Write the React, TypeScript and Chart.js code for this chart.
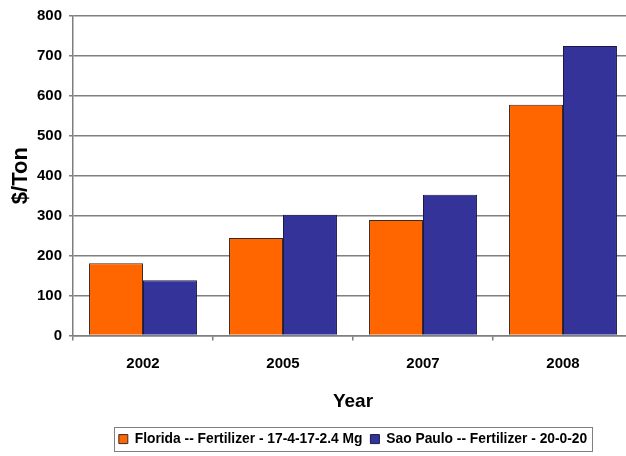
import React, { useEffect, useRef } from "react";
import { Chart, registerables } from "chart.js";

Chart.register(...registerables);

const years = ["2002", "2005", "2007", "2008"];
const floridaLabel = "Florida -- Fertilizer - 17-4-17-2.4 Mg";
const saoPauloLabel = "Sao Paulo -- Fertilizer - 20-0-20";
const floridaPrices = [181, 244, 289, 578];
const saoPauloPrices = [138, 302, 352, 725];
const yTicks = [0, 100, 200, 300, 400, 500, 600, 700, 800];

const FONT = "'Liberation Sans', Arial, Helvetica, sans-serif";

// Draws a thin frame around the legend items
const legendFrame = {
  id: "legendFrame",
  afterDraw(chart: any) {
    const lg = chart.legend;
    if (!lg || !lg.legendHitBoxes || !lg.legendHitBoxes.length) return;
    const boxes = lg.legendHitBoxes;
    let l = Infinity, r = -Infinity, t = Infinity, b = -Infinity;
    for (const h of boxes) {
      l = Math.min(l, h.left);
      r = Math.max(r, h.left + h.width);
      t = Math.min(t, h.top);
      b = Math.max(b, h.top + h.height);
    }
    const ctx = chart.ctx;
    ctx.save();
    ctx.strokeStyle = "#7f7f7f";
    ctx.lineWidth = 1;
    const cy = (t + b) / 2;
    ctx.strokeRect(Math.round(l - 5) + 0.5, Math.round(cy - 12) + 0.5, Math.round(r - l + 10), 24);
    ctx.restore();
  },
};

export default function App() {
  const ref = useRef<HTMLCanvasElement | null>(null);

  useEffect(() => {
    if (!ref.current) return;
    const chart = new Chart(ref.current, {
      type: "bar",
      data: {
        labels: years,
        datasets: [
          {
            label: floridaLabel,
            data: floridaPrices,
            backgroundColor: "#ff6600",
            borderColor: "#3a2a2a",
            borderWidth: 1,
            barPercentage: 1,
            categoryPercentage: 0.771,
          },
          {
            label: saoPauloLabel,
            data: saoPauloPrices,
            backgroundColor: "#333399",
            borderColor: "#1a1a4a",
            borderWidth: 1,
            barPercentage: 1,
            categoryPercentage: 0.771,
          },
        ],
      },
      options: {
        animation: false,
        responsive: false,
        maintainAspectRatio: false,
        layout: { padding: { top: 12, right: 7, left: 0, bottom: 0 } },
        plugins: {
          tooltip: { enabled: false },
          legend: {
            position: "bottom",
            fullSize: false,
            labels: {
              color: "#000",
              boxWidth: 9,
              boxHeight: 9,
              padding: 8,
              font: { family: FONT, size: 13.8, weight: "bold" },
            },
          },
        },
        scales: {
          x: {
            grid: {
              display: true,
              drawOnChartArea: false,
              offset: true,
              color: "#7f7f7f",
              tickLength: 5,
              lineWidth: 1.5,
            },
            border: { color: "#7f7f7f", width: 1.5 },
            ticks: { color: "#000", padding: 14, font: { family: FONT, size: 15, weight: "bold" } },
            title: {
              display: true,
              text: "Year",
              color: "#000",
              padding: { top: 4, bottom: 11 },
              font: { family: FONT, size: 19, weight: "bold" },
            },
          },
          y: {
            min: 0,
            max: 800,
            afterFit(scale: any) {
              scale.width = 73;
            },
            afterBuildTicks(scale: any) {
              scale.ticks = yTicks.map((v) => ({ value: v }));
            },
            grid: { color: "#7f7f7f", lineWidth: 1.5, tickLength: 4 },
            border: { color: "#7f7f7f", width: 1.5 },
            ticks: { color: "#000", padding: 7, font: { family: FONT, size: 15, weight: "bold" } },
            title: {
              display: true,
              text: "$/Ton",
              color: "#000",
              padding: { top: 8, bottom: 0 },
              font: { family: FONT, size: 22, weight: "bold" },
            },
          },
        },
      },
      plugins: [legendFrame],
    });
    return () => chart.destroy();
  }, []);

  return (
    <div style={{ position: "fixed", left: 0, top: 0, width: 640, height: 456, background: "#fff" }}>
      <canvas ref={ref} width={640} height={456} style={{ display: "block" }} />
    </div>
  );
}
